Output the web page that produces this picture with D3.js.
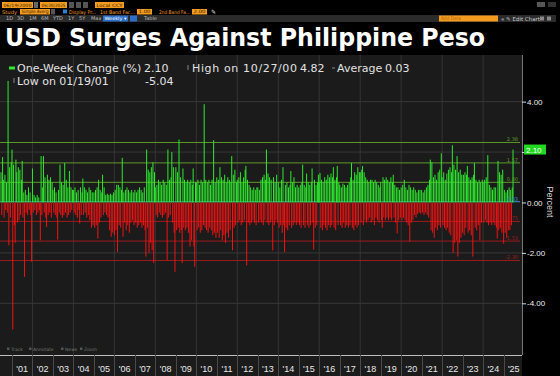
<!DOCTYPE html>
<html>
<head>
<meta charset="utf-8">
<script src="https://cdn.jsdelivr.net/npm/d3@7"></script>
<style>
  body { margin: 0; background: #000; }
  svg { display: block; font-family: "DejaVu Sans", sans-serif; }
</style>
</head>
<body>
<svg id="chart" width="560" height="376"></svg>
<script>
// one-week change of USD-PHP (%), sampled every second week, one row per year
const years = [2000, 2001, 2002, 2003, 2004, 2005, 2006, 2007, 2008, 2009, 2010, 2011, 2012,
  2013, 2014, 2015, 2016, 2017, 2018, 2019, 2020, 2021, 2022, 2023, 2024, 2025];

const weeklyChange = [
  [1.2, -0.5, 1.8, 0.9, -0.6, 1.1, -0.3, 0.8, -0.4, 4.82, -1.7, 1.4, -0.6, 1.6],
  [2.1, -5.04, 1.5, -0.9, -1.6, 1.7, 1.2, -0.8, 1.4, -0.7, 1.3, -0.5, 0.9, 1.65, -0.6, 0.4, -2.95, 0.5, -0.4, 0.3, -0.5, 0.6, -0.3, 0.4, -0.5, -2.35],
  [1.35, -0.4, 0.3, -0.3, 0.2, -0.5, 0.3, -0.4, 0.2, -0.3, -1.5, 1.84, -0.5, 0.6, 1.84, -0.4, 1.0, -0.6, -0.97, 1.1, -0.5, 0.9, -0.4, 1.0, -0.6, 0.8],
  [0.5, -0.4, 0.6, -0.5, 0.4, -0.6, -1.47, 0.5, -0.4, 1.5, -0.5, 0.8, -0.6, 0.7, -0.5, 1.57, -0.4, 0.9, -0.6, 0.6, -0.5, 1.25, -0.4, 0.6, -0.3, 0.5],
  [0.5, -0.4, 0.6, -0.5, 0.4, -0.6, 0.5, -0.3, -0.83, 0.6, -0.5, 0.4, 0.95, -0.5, 0.6, -0.4, 0.5, -0.6, 0.4, -0.5, 0.6, -0.7, 0.5, -1.0, 0.4, -0.9],
  [0.4, -1.0, 0.5, -0.9, 0.6, -1.43, 0.9, -0.8, 0.5, -0.6, 0.4, 1.1, -0.5, 0.6, -0.4, 0.3, -0.5, 0.35, -0.6, 0.3, -1.1, 0.35, -1.36, 0.3, -1.2, 0.4],
  [-1.3, 0.5, -1.1, 0.7, -1.96, 0.7, -0.9, 0.6, -1.0, 0.5, 1.77, -1.36, 0.4, -0.8, 0.5, -1.1, 0.6, -0.9, 0.5, -1.2, 0.4, -0.8, 0.5, -0.7, 0.4, -0.9],
  [0.5, -0.8, 0.4, -1.0, 0.5, -0.9, 0.6, -0.8, 0.5, -1.0, 0.4, -0.9, 0.6, -1.1, -2.15, 2.1, -1.0, 1.3, -2.0, 1.2, -1.6, 1.4, -1.9, 1.6, -2.4, 1.2],
  [0.6, -0.5, 0.7, -0.6, 0.9, -0.4, 0.8, -0.5, 0.7, -0.6, 0.9, -0.5, 0.8, -0.4, 0.7, -2.3, 2.1, -0.6, 0.9, -0.5, 1.0, 2.0, -0.8, 1.4, -1.2, -2.75],
  [1.4, -1.1, 1.2, -1.0, 2.5, -1.2, 1.0, -1.1, -2.4, 1.35, -1.0, 0.9, -1.1, 0.8, -1.0, 0.9, -1.2, 0.8, -1.75, 0.9, -1.5, 0.7, 1.35, -1.75, -2.55, 0.8],
  [0.8, -1.1, 0.9, -1.0, 0.7, -1.2, 0.9, -1.1, 0.8, -0.9, 3.9, -1.0, 0.9, -1.1, 0.8, -1.2, 0.9, -1.0, 0.7, -1.1, 0.9, -1.3, 2.47, -1.2, 0.8, -1.4],
  [1.0, -1.2, 0.9, -1.4, 1.4, -1.1, 1.0, -1.5, 0.9, -1.3, 1.1, -1.6, 0.8, -1.2, 1.0, -1.4, 0.9, -1.1, 0.8, 1.84, -1.9, 1.1, -1.0, 1.3, -0.9, 0.8],
  [0.9, -0.8, 1.0, -0.7, 1.2, -0.9, 0.8, -0.8, 1.0, -0.7, 1.3, 1.45, -2.5, 0.9, -0.8, 0.7, -0.9, 0.6, -0.8, 0.5, -0.7, 0.6, -0.8, 0.5, -0.9, 0.6],
  [0.6, -0.8, 0.5, -0.7, 0.9, -0.8, 1.0, -0.9, 1.1, -0.7, 0.9, 2.1, -0.8, 1.15, -0.9, 1.0, -0.8, 0.9, -0.7, -1.9, 1.0, -0.9, 0.8, -0.7, 1.1, -0.8],
  [0.8, -1.0, 0.6, -0.9, 0.9, -1.2, 1.4, -0.9, -1.96, 0.7, -1.0, 0.8, -1.1, 0.6, -0.9, 0.7, 1.25, -1.0, 0.8, -0.9, 1.0, -0.8, 0.6, -0.9, 0.7, -0.8],
  [0.6, -0.9, 0.7, -1.0, 0.8, 1.5, -0.9, 0.7, -1.0, 0.6, 1.15, -0.9, 0.8, -1.0, 0.7, -0.9, 0.8, 1.35, -0.8, -1.87, 0.9, -1.0, 0.7, -0.9, 0.8, 1.1],
  [0.8, 1.17, -1.0, 0.9, -1.1, 0.8, -0.9, 1.0, -1.0, 0.9, -1.1, 1.1, -0.9, 1.0, -1.0, 1.15, -0.9, 1.0, 1.4, -1.0, 0.9, -1.1, 1.0, 1.45, -0.9, 0.8],
  [0.7, -0.9, 0.6, -1.0, 0.75, -0.8, 0.7, -1.0, 0.6, -0.9, 0.7, -1.0, 0.8, -0.9, 1.0, 1.57, -1.0, 0.9, -1.1, 1.2, -0.9, 1.1, -1.0, 1.4, -0.9, 1.2],
  [1.2, -0.8, 1.3, 1.45, -0.9, 1.2, -0.7, 1.0, -0.8, 0.9, -0.7, 0.8, -0.6, 0.9, -0.8, 0.9, -0.7, 0.8, -0.9, 0.9, -0.6, 0.8, -0.7, 0.7, -0.8, 0.6],
  [0.8, -0.7, -1.0, 1.0, -0.6, 0.9, -0.7, 1.0, -0.6, 0.9, -0.7, 0.8, -0.6, 1.0, -0.7, 0.8, 1.1, -0.6, 0.7, -0.8, 0.6, -1.23, 0.6, -0.7, 0.5, -0.6],
  [0.6, -0.7, 0.7, -0.6, 0.9, -0.7, 0.6, -0.8, 0.5, -0.9, 0.7, -1.56, 0.6, -0.8, 0.5, -0.7, 0.6, -0.5, 0.5, -0.6, 0.4, -0.45, 0.5, -0.4, 0.5, -0.45],
  [0.5, -0.4, 0.4, -0.5, 0.5, -0.4, 0.6, -0.5, 0.7, -0.6, 0.9, 1.7, -1.1, 1.6, -1.2, 1.0, -1.4, 1.1, -1.0, 0.9, -1.1, 1.2, -0.9, 1.3, -1.0, 1.95],
  [1.0, -0.9, 1.2, -1.0, 0.9, -1.1, 1.15, -1.0, 1.3, -1.2, 1.4, -1.3, 1.2, 2.27, -2.0, 1.5, -1.6, 1.3, -1.5, 1.84, -2.15, 1.2, -1.6, 1.3, -1.4, 1.1],
  [-1.2, 1.1, -1.3, 1.2, -1.0, 1.1, 1.45, -1.2, 1.0, -1.1, 0.9, -1.3, 1.0, -2.15, 1.1, 1.57, -1.0, 0.9, -1.1, 0.8, -0.9, 0.9, -1.5, 0.8, -0.8, 0.9],
  [0.8, -0.8, 0.9, -0.7, 1.0, -0.8, 1.88, -0.9, 0.7, -0.8, 0.6, -0.9, 0.5, -0.8, 0.6, -0.9, 0.6, -1.0, -1.43, 1.65, -1.1, 1.2, -1.0, 1.1, -1.2, 1.3],
  [-1.63, 0.5, -1.2, 0.4, -1.4, 0.5, -1.1, 0.6, -1.1, 0.5, -0.9, 0.6, 2.10]
];

const yTicks = [4, 2, 0, -2, -4];
const xTickLabels = ["'01", "'02", "'03", "'04", "'05", "'06", "'07", "'08", "'09", "'10", "'11", "'12", "'13",
  "'14", "'15", "'16", "'17", "'18", "'19", "'20", "'21", "'22", "'23", "'24", "'25"];
const bandValues = [2.38, 1.57, 0.80, 0.03, -0.75, -1.53, -2.30];
const lastValue = 2.10;

const svg = d3.select('#chart');
const plotRight = 522, plotTop = 55, plotBottom = 355;

const x = d3.scaleTime()
  .domain([new Date(2000, 5, 19), new Date(2025, 10, 25)])
  .range([1, plotRight]);
const y = d3.scaleLinear().domain([-6.05, 5.85]).range([plotBottom, plotTop]);

const points = [];
years.forEach((yr, i) => {
  let start = yr === 2000 ? new Date(2000, 5, 19) : new Date(yr, 0, 1);
  weeklyChange[i].forEach((v, j) => {
    points.push({ date: d3.timeDay.offset(start, j * 14), value: v });
  });
});

// ---- top toolbar (terminal chrome) ----
const orange = '#f39c1f';
function box(xp, yp, w, h, fill, label, color) {
  svg.append('rect').attr('x', xp).attr('y', yp).attr('width', w).attr('height', h).attr('fill', fill);
  if (label) {
    svg.append('text').attr('x', xp + 1.5).attr('y', yp + h - 1.3)
      .attr('font-size', 4.5).attr('fill', color || '#3a2000')
      .attr('textLength', w - 3).attr('lengthAdjust', 'spacingAndGlyphs')
      .text(label);
  }
}
function tinyText(xp, yp, w, t, color) {
  svg.append('text').attr('x', xp).attr('y', yp).attr('font-size', 5).attr('fill', color)
    .attr('textLength', w).attr('lengthAdjust', 'spacingAndGlyphs').text(t);
}
box(2, 2, 31, 6, orange, '06/19/2000');
box(34, 2, 4, 6, '#666');
box(40, 2, 27, 6, orange, '06/20/2025');
box(69, 2, 5, 6, '#555');
box(76, 2, 5, 6, '#555');
box(83, 2, 5, 6, '#555');
box(95, 2, 29, 6, orange, 'Local CCY');
box(537, 2, 8, 5, '#555');
box(548, 2, 8, 5, '#333');

tinyText(2, 13.5, 15, 'Study', orange);
box(20, 9, 30, 5.5, orange, 'Simple Averg');
box(51, 9, 4, 5.5, '#555');
box(63, 9.5, 4, 4, '#2d7fd8');
tinyText(69, 13.5, 27, 'Display Pr...', orange);
tinyText(100, 13.5, 35, '1st Band Fac...', orange);
box(137, 9, 15, 5.5, orange, '1.00');
tinyText(159, 13.5, 31, '2nd Band Fa...', orange);
box(192, 9, 15, 5.5, orange, '2.00');
svg.append('text').attr('x', 211).attr('y', 14).attr('font-size', 6).attr('fill', '#ddd').text('\u270E');

svg.append('rect').attr('x', 0).attr('y', 15).attr('width', 556).attr('height', 7).attr('fill', '#2b2b2b');
const ranges = ['1D', '3D', '1M', '6M', 'YTD', '1Y', '5Y', 'Max'];
const rangeX = [6, 17, 29, 41, 53, 68, 79, 91];
ranges.forEach((r, i) => {
  svg.append('text').attr('x', rangeX[i]).attr('y', 20.3).attr('font-size', 5).attr('fill', '#bbb').text(r);
});
box(103, 15.5, 25, 6, '#2d6fc8', 'Weekly \u25BE', '#fff');
box(130, 15.5, 7, 6, '#2d6fc8');
svg.append('text').attr('x', 144).attr('y', 20.3).attr('font-size', 5).attr('fill', '#bbb').text('Table');
box(439, 15.5, 59, 6, orange);
tinyText(441, 20.3, 20, 'Add Data', '#b06a10');
svg.append('text').attr('x', 501).attr('y', 20.5).attr('font-size', 5.5).attr('fill', '#ccc').text('\u00AB \u270E Edit Chart');
box(540, 16.5, 4, 4, '#888');
box(547, 16.5, 4, 4, '#888');

// ---- title ----
svg.append('text')
  .attr('x', 5).attr('y', 46)
  .attr('font-size', 25).attr('font-weight', 'bold')
  .attr('fill', '#fff')
  .attr('textLength', 480).attr('lengthAdjust', 'spacingAndGlyphs')
  .text('USD Surges Against Philippine Peso');

// ---- chart panel ----
svg.append('rect').attr('x', 0).attr('y', plotTop).attr('width', plotRight).attr('height', 376 - plotTop).attr('fill', '#1b1b1b');

// grid
const evenYears = d3.timeYear.range(new Date(2002, 0, 1), new Date(2026, 0, 1), 2);
svg.append('g').selectAll('line').data(evenYears).join('line')
  .attr('x1', d => x(d)).attr('x2', d => x(d))
  .attr('y1', plotTop).attr('y2', plotBottom)
  .attr('stroke', '#343434').attr('stroke-width', 1);
svg.append('g').selectAll('line').data(yTicks.filter(d => d !== 0)).join('line')
  .attr('x1', 0).attr('x2', plotRight)
  .attr('y1', d => y(d)).attr('y2', d => y(d))
  .attr('stroke', '#383838').attr('stroke-width', 1);

// bands
function bandColor(v) {
  if (Math.abs(v - 0.03) < 0.001) return '#3f8fd8';
  return v > 0 ? '#5e9a2c' : '#9c1c1c';
}
svg.append('g').selectAll('line').data(bandValues).join('line')
  .attr('x1', 0).attr('x2', 520)
  .attr('y1', d => y(d)).attr('y2', d => y(d))
  .attr('stroke', bandColor).attr('stroke-width', 1);

// bars
svg.append('g').selectAll('rect').data(points).join('rect')
  .attr('x', d => x(d.date) - 0.5)
  .attr('width', 1)
  .attr('y', d => y(Math.max(0, d.value)))
  .attr('height', d => Math.abs(y(d.value) - y(0)))
  .attr('fill', d => d.value >= 0 ? '#2fe82f' : '#ee1414');

// band labels
svg.append('g').selectAll('text').data(bandValues).join('text')
  .attr('x', 518).attr('y', d => y(d) - 1)
  .attr('text-anchor', 'end')
  .attr('font-size', 5)
  .attr('fill', bandColor)
  .text(d => d.toFixed(2));

// legend
const legendColor = '#e2e2e2';
svg.append('rect').attr('x', 9).attr('y', 66.5).attr('width', 6).attr('height', 3).attr('fill', '#2fe82f');
function legText(xp, yp, t) {
  return svg.append('text').attr('x', xp).attr('y', yp).attr('font-size', 11).attr('fill', legendColor).text(t);
}
legText(17, 72, 'One-Week Change (%)');
legText(144, 72, lastValue.toFixed(2));
svg.append('rect').attr('x', 187.5).attr('y', 65).attr('width', 1).attr('height', 5).attr('fill', '#888');
legText(192, 72, 'High on 10/27/00').attr('textLength', 105).attr('lengthAdjust', 'spacing');
legText(300, 72, '4.82');
svg.append('rect').attr('x', 332).attr('y', 67.5).attr('width', 3).attr('height', 1).attr('fill', '#888');
legText(337, 72, 'Average');
legText(385, 72, '0.03');
svg.append('rect').attr('x', 13.5).attr('y', 78).attr('width', 1).attr('height', 5).attr('fill', '#888');
legText(17, 85, 'Low on 01/19/01');
legText(145, 85, '-5.04');

// chart toolbar (Track / Annotate / News / Zoom)
const tools = ['Track', 'Annotate', 'News', 'Zoom'];
const toolX = [11, 33, 65, 84];
tools.forEach((t, i) => {
  svg.append('rect').attr('x', toolX[i] - 4).attr('y', 347.5).attr('width', 2.5).attr('height', 2.5).attr('fill', '#555');
  svg.append('text').attr('x', toolX[i]).attr('y', 350.5).attr('font-size', 4.5).attr('fill', '#777').text(t);
});

// right axis area
svg.append('rect').attr('x', plotRight).attr('y', plotTop).attr('width', 560 - plotRight).attr('height', 376 - plotTop).attr('fill', '#000');
// the 2.00 label sits under the last-value marker, so only its tick is drawn
const yAxis = d3.axisRight(y).tickValues(yTicks).tickSize(4).tickPadding(1)
  .tickFormat(d => d === 2 ? '' : d.toFixed(2));
const gy = svg.append('g').attr('transform', `translate(${plotRight},0)`).call(yAxis);
gy.select('.domain').attr('stroke', '#777').attr('d', `M0.5,${plotTop}V${plotBottom}`);
gy.selectAll('.tick line').attr('stroke', '#ddd');
gy.selectAll('.tick text').attr('fill', '#eee').attr('font-size', 8).attr('font-family', 'Liberation Sans, sans-serif');

// last value marker
svg.append('rect').attr('x', 524).attr('y', y(lastValue) - 5).attr('width', 22).attr('height', 10).attr('fill', '#22d822');
svg.append('text').attr('x', 526).attr('y', y(lastValue) + 3)
  .attr('font-size', 8).attr('font-family', 'Liberation Sans, sans-serif').attr('fill', '#fff')
  .text(lastValue.toFixed(2));

svg.append('text')
  .attr('transform', 'translate(547,202) rotate(90)')
  .attr('text-anchor', 'middle')
  .attr('font-size', 9).attr('font-family', 'Liberation Sans, sans-serif')
  .attr('fill', '#ddd')
  .text('Percent');

// bottom time axis
const yearStarts = d3.timeYear.range(new Date(2001, 0, 1), new Date(2026, 0, 1));
svg.append('line').attr('x1', 0).attr('x2', plotRight).attr('y1', plotBottom + 0.5).attr('y2', plotBottom + 0.5)
  .attr('stroke', '#bdbdbd');
svg.append('g').selectAll('line').data(yearStarts).join('line')
  .attr('x1', d => Math.round(x(d)) + 0.5).attr('x2', d => Math.round(x(d)) + 0.5)
  .attr('y1', plotBottom).attr('y2', 376)
  .attr('stroke', '#4a4a4a');
svg.append('g').selectAll('text').data(yearStarts).join('text')
  .attr('x', d => x(d3.timeMonth.offset(d, 6)))
  .attr('y', 372)
  .attr('text-anchor', 'middle')
  .attr('font-size', 9).attr('font-family', 'Liberation Sans, sans-serif')
  .attr('fill', '#e8e8e8')
  .text((d, i) => xTickLabels[i]);
</script>
</body>
</html>
